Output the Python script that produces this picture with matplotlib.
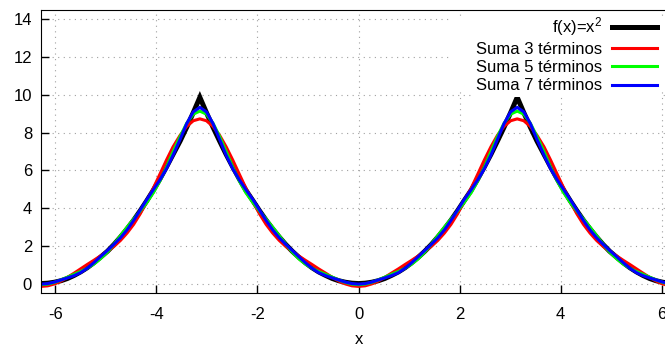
import matplotlib.pyplot as plt

plt.rcParams['font.family'] = ['Liberation Sans', 'DejaVu Sans']
plt.rcParams['mathtext.default'] = 'regular'
plt.rcParams['axes.unicode_minus'] = False

# muestras en x (paso pi/24 sobre [-2pi, 2pi])
x = [-6.28, -6.15, -6.02, -5.89, -5.76, -5.63, -5.50, -5.37, -5.24, -5.11,
     -4.97, -4.84, -4.71, -4.58, -4.45, -4.32, -4.19, -4.06, -3.93, -3.80,
     -3.67, -3.53, -3.40, -3.27, -3.14,
     -3.01, -2.88, -2.75, -2.62, -2.49, -2.36, -2.23, -2.09, -1.96, -1.83,
     -1.70, -1.57, -1.44, -1.31, -1.18, -1.05, -0.92, -0.79, -0.65, -0.52,
     -0.39, -0.26, -0.13, 0.00,
     0.13, 0.26, 0.39, 0.52, 0.65, 0.79, 0.92, 1.05, 1.18, 1.31,
     1.44, 1.57, 1.70, 1.83, 1.96, 2.09, 2.23, 2.36, 2.49, 2.62,
     2.75, 2.88, 3.01, 3.14,
     3.27, 3.40, 3.53, 3.67, 3.80, 3.93, 4.06, 4.19, 4.32, 4.45,
     4.58, 4.71, 4.84, 4.97, 5.11, 5.24, 5.37, 5.50, 5.63, 5.76,
     5.89, 6.02, 6.15, 6.28]

fx = [0.00, 0.02, 0.07, 0.15, 0.27, 0.43, 0.62, 0.84, 1.10, 1.39,
      1.71, 2.07, 2.47, 2.90, 3.36, 3.86, 4.39, 4.95, 5.55, 6.19,
      6.85, 7.56, 8.29, 9.06, 9.87,
      9.06, 8.29, 7.56, 6.85, 6.19, 5.55, 4.95, 4.39, 3.86, 3.36,
      2.90, 2.47, 2.07, 1.71, 1.39, 1.10, 0.84, 0.62, 0.43, 0.27,
      0.15, 0.07, 0.02, 0.00,
      0.02, 0.07, 0.15, 0.27, 0.43, 0.62, 0.84, 1.10, 1.39, 1.71,
      2.07, 2.47, 2.90, 3.36, 3.86, 4.39, 4.95, 5.55, 6.19, 6.85,
      7.56, 8.29, 9.06, 9.87,
      9.06, 8.29, 7.56, 6.85, 6.19, 5.55, 4.95, 4.39, 3.86, 3.36,
      2.90, 2.47, 2.07, 1.71, 1.39, 1.10, 0.84, 0.62, 0.43, 0.27,
      0.15, 0.07, 0.02, 0.00]

suma3 = [-0.15, -0.12, -0.02, 0.13, 0.33, 0.55, 0.78, 1.01, 1.23, 1.46,
         1.70, 1.97, 2.29, 2.68, 3.14, 3.70, 4.35, 5.06, 5.80, 6.55,
         7.25, 7.86, 8.33, 8.63, 8.73,
         8.63, 8.33, 7.86, 7.25, 6.55, 5.80, 5.06, 4.35, 3.70, 3.14,
         2.68, 2.29, 1.97, 1.70, 1.46, 1.23, 1.01, 0.78, 0.55, 0.33,
         0.13, -0.02, -0.12, -0.15,
         -0.12, -0.02, 0.13, 0.33, 0.55, 0.78, 1.01, 1.23, 1.46, 1.70,
         1.97, 2.29, 2.68, 3.14, 3.70, 4.35, 5.06, 5.80, 6.55, 7.25,
         7.86, 8.33, 8.63, 8.73,
         8.63, 8.33, 7.86, 7.25, 6.55, 5.80, 5.06, 4.35, 3.70, 3.14,
         2.68, 2.29, 1.97, 1.70, 1.46, 1.23, 1.01, 0.78, 0.55, 0.33,
         0.13, -0.02, -0.12, -0.15]

suma5 = [-0.06, -0.03, 0.06, 0.19, 0.34, 0.49, 0.64, 0.81, 1.03, 1.31,
         1.67, 2.09, 2.54, 2.99, 3.42, 3.85, 4.30, 4.82, 5.44, 6.18,
         6.99, 7.80, 8.50, 8.98, 9.14,
         8.98, 8.50, 7.80, 6.99, 6.18, 5.44, 4.82, 4.30, 3.85, 3.42,
         2.99, 2.54, 2.09, 1.67, 1.31, 1.03, 0.81, 0.64, 0.49, 0.34,
         0.19, 0.06, -0.03, -0.06,
         -0.03, 0.06, 0.19, 0.34, 0.49, 0.64, 0.81, 1.03, 1.31, 1.67,
         2.09, 2.54, 2.99, 3.42, 3.85, 4.30, 4.82, 5.44, 6.18, 6.99,
         7.80, 8.50, 8.98, 9.14,
         8.98, 8.50, 7.80, 6.99, 6.18, 5.44, 4.82, 4.30, 3.85, 3.42,
         2.99, 2.54, 2.09, 1.67, 1.31, 1.03, 0.81, 0.64, 0.49, 0.34,
         0.19, 0.06, -0.03, -0.06]

suma7 = [-0.03, 0.00, 0.08, 0.19, 0.30, 0.42, 0.58, 0.81, 1.10, 1.42,
         1.75, 2.08, 2.43, 2.85, 3.35, 3.90, 4.45, 4.98, 5.50, 6.09,
         6.81, 7.65, 8.48, 9.10, 9.34,
         9.10, 8.48, 7.65, 6.81, 6.09, 5.50, 4.98, 4.45, 3.90, 3.35,
         2.85, 2.43, 2.08, 1.75, 1.42, 1.10, 0.81, 0.58, 0.42, 0.30,
         0.19, 0.08, 0.00, -0.03,
         0.00, 0.08, 0.19, 0.30, 0.42, 0.58, 0.81, 1.10, 1.42, 1.75,
         2.08, 2.43, 2.85, 3.35, 3.90, 4.45, 4.98, 5.50, 6.09, 6.81,
         7.65, 8.48, 9.10, 9.34,
         9.10, 8.48, 7.65, 6.81, 6.09, 5.50, 4.98, 4.45, 3.90, 3.35,
         2.85, 2.43, 2.08, 1.75, 1.42, 1.10, 0.81, 0.58, 0.42, 0.30,
         0.19, 0.08, 0.00, -0.03]

fig = plt.figure(figsize=(6.65, 3.47), dpi=100)
ax = fig.add_axes([0.0617, 0.1556, 0.9549, 0.8156])

ax.plot(x, fx, color='black', lw=3.6, solid_joinstyle='miter', label='f(x)=$x^2$')
ax.plot(x, suma3, color='#ff0000', lw=2.2, label='Suma 3 términos')
ax.plot(x, suma5, color='#00ff00', lw=2.2, label='Suma 5 términos')
ax.plot(x, suma7, color='#0000ff', lw=2.2, label='Suma 7 términos')

ax.set_xlim(-6.2832, 6.2832)
ax.set_ylim(-0.5, 14.5)
ax.set_xticks(range(-6, 7, 2))
ax.set_yticks(range(0, 15, 2))
ax.grid(True, color='#a0a0a0', linestyle=(0, (1, 4)), linewidth=0.8)
ax.tick_params(direction='in', length=5.5, width=1, labelsize=12, colors='black')
ax.tick_params(axis='x', pad=10)
ax.tick_params(axis='y', pad=6.5)
ax.spines['right'].set_visible(False)
ax.set_xlabel('x', fontsize=12, labelpad=7.5)

# fondo blanco de la leyenda, algo más ancho que el texto
ax.add_patch(plt.Rectangle((452 / 665, (347 - 88) / 347), 213 / 665, 70 / 347,
                           transform=fig.transFigure, facecolor='white',
                           edgecolor='none', zorder=1.8))

leg = ax.legend(loc='upper right', bbox_to_anchor=(0.9932, 0.965),
                bbox_transform=fig.transFigure, markerfirst=False,
                fontsize=12, handlelength=2.7, handletextpad=0.6,
                labelspacing=0.2, borderpad=0.2, borderaxespad=0,
                frameon=True, fancybox=False, framealpha=1,
                facecolor='white', edgecolor='none')

fig.savefig('out.png', dpi=100)
